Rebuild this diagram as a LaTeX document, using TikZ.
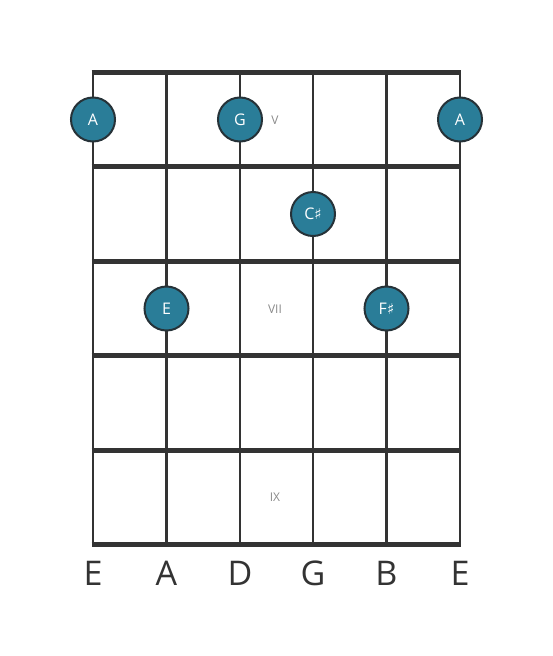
\documentclass[tikz,border=0pt]{standalone}
\usepackage{fontspec}
\setmainfont{Open Sans}
\newfontfamily\symfont{DejaVu Sans}
\definecolor{linec}{HTML}{333333}
\definecolor{dotc}{HTML}{2A7D98}
\definecolor{dotb}{HTML}{263238}
\definecolor{fretc}{HTML}{8A8A8A}
\tikzset{
  stringline/.style={draw=linec, line width=2.7pt},
  fretline/.style={draw=linec, line width=5pt},
  notedot/.style={circle, fill=dotc, draw=dotb, line width=2pt, minimum size=44pt, inner sep=0pt, text=white, font=\fontsize{16}{16}\selectfont},
  fretnum/.style={text=fretc, font=\fontsize{12}{12}\selectfont},
  strname/.style={text=linec, font=\fontsize{34}{34}\selectfont},
}
\begin{document}
\begin{tikzpicture}[x=1pt,y=-1pt]
\useasboundingbox (0,0) rectangle (553,656);
% strings
\foreach \i/\x in {1/93,2/166.5,3/240,4/313,5/386.5,6/460} {
  \coordinate (st\i) at (\x,72);
  \coordinate (sb\i) at (\x,544);
  \draw[stringline] (st\i) -- (sb\i);
}
% frets
\foreach \j/\y in {0/72,1/166.5,2/261,3/355.5,4/450,5/544} {
  \coordinate (fl\j) at (91.7,\y);
  \coordinate (fr\j) at (461.3,\y);
  \draw[fretline] (fl\j) -- (fr\j);
}
% fret numbers
\node[fretnum] (fV) at (275,120) {V};
\node[fretnum] (fVII) at (275,309) {VII};
\node[fretnum] (fIX) at (275,497) {IX};
% notes
\node[notedot] (n1) at (93,119.5) {A};
\node[notedot] (n2) at (240,119.5) {G};
\node[notedot] (n3) at (460,119.5) {A};
\node[notedot] (n4) at (313,214) {C{\symfont\fontsize{15}{15}\selectfont ♯}};
\node[notedot] (n5) at (166.5,308.5) {E};
\node[notedot] (n6) at (386.5,308.5) {F{\symfont\fontsize{15}{15}\selectfont ♯}};
% string names
\node[strname] (l1) at (93,573) {E};
\node[strname] (l2) at (166.5,573) {A};
\node[strname] (l3) at (240,573) {D};
\node[strname] (l4) at (313,573) {G};
\node[strname] (l5) at (386.5,573) {B};
\node[strname] (l6) at (460,573) {E};
\end{tikzpicture}
\end{document}
